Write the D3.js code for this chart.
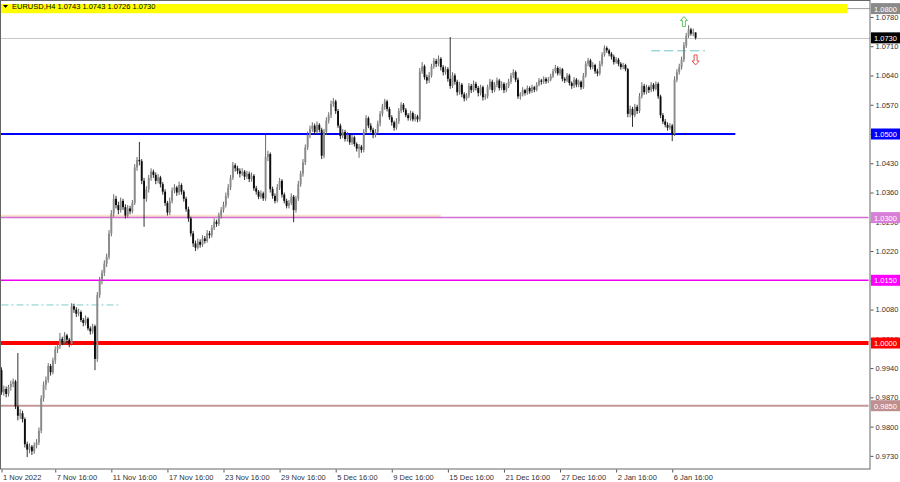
<!DOCTYPE html>
<html>
<head>
<meta charset="utf-8">
<script src="https://cdnjs.cloudflare.com/ajax/libs/d3/7.8.5/d3.min.js"></script>
<style>
  body { margin: 0; background: #fff; }
  text { font-family: "Liberation Sans", Arial, sans-serif; font-size: 7.5px; }
</style>
</head>
<body>
<script>
var width = 900;
var height = 482;
var plotRight = 870;
var plotBottom = 469;
var barStep = 2.337;

var symbol = 'EURUSD,H4';

// H4 bars, [open, high, low, close]
var bars = [
  [0.9935,0.9942,0.9876,0.9882],[0.9882,0.9898,0.9874,0.9890],[0.9890,0.9896,0.9870,0.9878],[0.9878,0.9900,0.9872,0.9895],
  [0.9895,0.9910,0.9886,0.9902],[0.9902,0.9915,0.9894,0.9908],[0.9908,0.9912,0.9842,0.9848],[0.9848,0.9976,0.9815,0.9826],
  [0.9826,0.9842,0.9818,0.9832],[0.9832,0.9838,0.9810,0.9818],[0.9818,0.9822,0.9750,0.9758],[0.9758,0.9764,0.9727,0.9745],
  [0.9745,0.9760,0.9736,0.9752],[0.9752,0.9756,0.9732,0.9741],[0.9741,0.9762,0.9735,0.9755],[0.9755,0.9770,0.9748,0.9762],
  [0.9762,0.9798,0.9756,0.9790],[0.9790,0.9875,0.9784,0.9868],[0.9868,0.9908,0.9860,0.9900],[0.9900,0.9920,0.9888,0.9912],
  [0.9912,0.9952,0.9905,0.9945],[0.9945,0.9950,0.9922,0.9930],[0.9930,0.9965,0.9925,0.9958],[0.9958,0.9992,0.9950,0.9985],
  [0.9985,1.0000,0.9976,0.9992],[0.9992,1.0024,0.9986,1.0010],[1.0010,1.0015,0.9995,1.0002],[1.0002,1.0026,0.9996,1.0018],
  [1.0018,1.0022,1.0000,1.0008],[1.0008,1.0012,0.9990,0.9998],[0.9998,1.0095,0.9994,1.0088],[1.0088,1.0094,1.0072,1.0080],
  [1.0080,1.0086,1.0062,1.0070],[1.0070,1.0082,1.0064,1.0074],[1.0074,1.0078,1.0050,1.0055],[1.0055,1.0060,1.0040,1.0048],
  [1.0048,1.0066,1.0042,1.0058],[1.0058,1.0062,1.0030,1.0035],[1.0035,1.0040,1.0020,1.0028],[1.0028,1.0046,1.0022,1.0040],
  [1.0040,1.0044,0.9935,0.9962],[0.9962,1.0122,0.9955,1.0115],[1.0115,1.0158,1.0108,1.0150],[1.0150,1.0175,1.0140,1.0168],
  [1.0168,1.0198,1.0160,1.0190],[1.0190,1.0214,1.0182,1.0206],[1.0206,1.0270,1.0200,1.0262],[1.0262,1.0318,1.0255,1.0310],
  [1.0310,1.0356,1.0302,1.0345],[1.0345,1.0352,1.0322,1.0330],[1.0330,1.0338,1.0308,1.0318],[1.0318,1.0348,1.0312,1.0340],
  [1.0340,1.0345,1.0318,1.0325],[1.0325,1.0332,1.0298,1.0305],[1.0305,1.0330,1.0300,1.0322],[1.0322,1.0328,1.0308,1.0315],
  [1.0315,1.0342,1.0310,1.0335],[1.0335,1.0428,1.0330,1.0420],[1.0420,1.0445,1.0412,1.0438],[1.0438,1.0481,1.0425,1.0435],
  [1.0435,1.0440,1.0380,1.0388],[1.0388,1.0395,1.0278,1.0345],[1.0345,1.0375,1.0338,1.0368],[1.0368,1.0402,1.0360,1.0395],
  [1.0395,1.0418,1.0388,1.0410],[1.0410,1.0415,1.0395,1.0402],[1.0402,1.0408,1.0380,1.0388],[1.0388,1.0404,1.0382,1.0396],
  [1.0396,1.0400,1.0372,1.0380],[1.0380,1.0385,1.0355,1.0362],[1.0362,1.0368,1.0328,1.0335],[1.0335,1.0340,1.0305,1.0312],
  [1.0312,1.0348,1.0306,1.0340],[1.0340,1.0372,1.0334,1.0365],[1.0365,1.0380,1.0358,1.0372],[1.0372,1.0376,1.0352,1.0360],
  [1.0360,1.0386,1.0354,1.0378],[1.0378,1.0382,1.0355,1.0362],[1.0362,1.0366,1.0338,1.0345],[1.0345,1.0350,1.0314,1.0320],
  [1.0320,1.0326,1.0290,1.0298],[1.0298,1.0302,1.0255,1.0262],[1.0262,1.0268,1.0230,1.0238],[1.0238,1.0245,1.0220,1.0228],
  [1.0228,1.0250,1.0224,1.0242],[1.0242,1.0248,1.0228,1.0235],[1.0235,1.0258,1.0230,1.0250],[1.0250,1.0256,1.0238,1.0244],
  [1.0244,1.0270,1.0240,1.0262],[1.0262,1.0268,1.0250,1.0258],[1.0258,1.0282,1.0252,1.0275],[1.0275,1.0298,1.0270,1.0290],
  [1.0290,1.0295,1.0278,1.0285],[1.0285,1.0312,1.0280,1.0305],[1.0305,1.0325,1.0298,1.0318],[1.0318,1.0338,1.0312,1.0330],
  [1.0330,1.0360,1.0324,1.0352],[1.0352,1.0380,1.0346,1.0372],[1.0372,1.0402,1.0366,1.0395],[1.0395,1.0433,1.0390,1.0425],
  [1.0425,1.0430,1.0410,1.0418],[1.0418,1.0424,1.0404,1.0412],[1.0412,1.0418,1.0396,1.0405],[1.0405,1.0418,1.0400,1.0410],
  [1.0410,1.0414,1.0390,1.0398],[1.0398,1.0412,1.0392,1.0405],[1.0405,1.0410,1.0385,1.0392],[1.0392,1.0408,1.0386,1.0400],
  [1.0400,1.0404,1.0364,1.0370],[1.0370,1.0376,1.0355,1.0362],[1.0362,1.0366,1.0344,1.0350],[1.0350,1.0365,1.0345,1.0358],
  [1.0358,1.0362,1.0340,1.0346],[1.0346,1.0498,1.0340,1.0445],[1.0445,1.0460,1.0435,1.0452],[1.0452,1.0456,1.0360,1.0368],
  [1.0368,1.0374,1.0345,1.0352],[1.0352,1.0358,1.0334,1.0340],[1.0340,1.0380,1.0336,1.0372],[1.0372,1.0395,1.0366,1.0388],
  [1.0388,1.0392,1.0348,1.0355],[1.0355,1.0360,1.0334,1.0340],[1.0340,1.0345,1.0322,1.0328],[1.0328,1.0342,1.0322,1.0335],
  [1.0335,1.0358,1.0330,1.0350],[1.0350,1.0354,1.0289,1.0318],[1.0318,1.0352,1.0312,1.0345],[1.0345,1.0388,1.0340,1.0380],
  [1.0380,1.0412,1.0374,1.0405],[1.0405,1.0440,1.0398,1.0432],[1.0432,1.0475,1.0426,1.0468],[1.0468,1.0506,1.0462,1.0498],
  [1.0498,1.0520,1.0490,1.0512],[1.0512,1.0528,1.0505,1.0520],[1.0520,1.0525,1.0498,1.0505],[1.0505,1.0530,1.0500,1.0522],
  [1.0522,1.0526,1.0504,1.0510],[1.0510,1.0515,1.0440,1.0448],[1.0448,1.0512,1.0442,1.0505],[1.0505,1.0540,1.0498,1.0532],
  [1.0532,1.0552,1.0525,1.0545],[1.0545,1.0580,1.0538,1.0572],[1.0572,1.0586,1.0565,1.0578],[1.0578,1.0582,1.0548,1.0555],
  [1.0555,1.0560,1.0514,1.0520],[1.0520,1.0525,1.0488,1.0495],[1.0495,1.0512,1.0490,1.0505],[1.0505,1.0510,1.0482,1.0488],
  [1.0488,1.0505,1.0482,1.0498],[1.0498,1.0502,1.0474,1.0480],[1.0480,1.0498,1.0474,1.0492],[1.0492,1.0496,1.0470,1.0476],
  [1.0476,1.0480,1.0458,1.0465],[1.0465,1.0476,1.0443,1.0470],[1.0470,1.0474,1.0455,1.0462],[1.0462,1.0512,1.0456,1.0505],
  [1.0505,1.0545,1.0500,1.0538],[1.0538,1.0542,1.0514,1.0520],[1.0520,1.0526,1.0504,1.0510],[1.0510,1.0515,1.0490,1.0498],
  [1.0498,1.0512,1.0492,1.0505],[1.0505,1.0532,1.0500,1.0525],[1.0525,1.0555,1.0518,1.0548],[1.0548,1.0572,1.0542,1.0565],
  [1.0565,1.0584,1.0558,1.0578],[1.0578,1.0582,1.0554,1.0560],[1.0560,1.0565,1.0534,1.0540],[1.0540,1.0545,1.0520,1.0528],
  [1.0528,1.0532,1.0508,1.0515],[1.0515,1.0538,1.0510,1.0530],[1.0530,1.0562,1.0524,1.0555],[1.0555,1.0576,1.0550,1.0570],
  [1.0570,1.0574,1.0552,1.0558],[1.0558,1.0562,1.0540,1.0545],[1.0545,1.0550,1.0532,1.0538],[1.0538,1.0556,1.0532,1.0550],
  [1.0550,1.0554,1.0530,1.0535],[1.0535,1.0548,1.0530,1.0542],[1.0542,1.0546,1.0528,1.0535],[1.0535,1.0658,1.0530,1.0650],
  [1.0650,1.0672,1.0644,1.0662],[1.0662,1.0666,1.0630,1.0636],[1.0636,1.0642,1.0620,1.0628],[1.0628,1.0648,1.0622,1.0640],
  [1.0640,1.0668,1.0635,1.0662],[1.0662,1.0682,1.0656,1.0675],[1.0675,1.0680,1.0660,1.0668],[1.0668,1.0688,1.0662,1.0680],
  [1.0680,1.0684,1.0652,1.0660],[1.0660,1.0665,1.0640,1.0648],[1.0648,1.0662,1.0642,1.0655],[1.0655,1.0660,1.0625,1.0632],
  [1.0632,1.0732,1.0608,1.0615],[1.0615,1.0648,1.0610,1.0640],[1.0640,1.0645,1.0618,1.0625],[1.0625,1.0630,1.0592,1.0600],
  [1.0600,1.0625,1.0594,1.0618],[1.0618,1.0622,1.0588,1.0595],[1.0595,1.0600,1.0578,1.0585],[1.0585,1.0598,1.0580,1.0592],
  [1.0592,1.0622,1.0586,1.0615],[1.0615,1.0620,1.0598,1.0605],[1.0605,1.0628,1.0600,1.0620],[1.0620,1.0625,1.0604,1.0610],
  [1.0610,1.0615,1.0590,1.0598],[1.0598,1.0618,1.0592,1.0612],[1.0612,1.0616,1.0580,1.0588],[1.0588,1.0596,1.0582,1.0590],
  [1.0590,1.0618,1.0585,1.0612],[1.0612,1.0632,1.0606,1.0625],[1.0625,1.0630,1.0598,1.0605],[1.0605,1.0624,1.0600,1.0618],
  [1.0618,1.0635,1.0612,1.0628],[1.0628,1.0632,1.0604,1.0610],[1.0610,1.0626,1.0605,1.0620],[1.0620,1.0624,1.0598,1.0605],
  [1.0605,1.0622,1.0600,1.0615],[1.0615,1.0632,1.0610,1.0625],[1.0625,1.0646,1.0620,1.0640],[1.0640,1.0655,1.0634,1.0648],
  [1.0648,1.0652,1.0624,1.0630],[1.0630,1.0635,1.0584,1.0590],[1.0590,1.0600,1.0582,1.0595],[1.0595,1.0612,1.0590,1.0605],
  [1.0605,1.0608,1.0592,1.0598],[1.0598,1.0616,1.0594,1.0610],[1.0610,1.0614,1.0596,1.0602],[1.0602,1.0618,1.0598,1.0612],
  [1.0612,1.0615,1.0600,1.0606],[1.0606,1.0624,1.0602,1.0618],[1.0618,1.0634,1.0614,1.0628],[1.0628,1.0632,1.0618,1.0625],
  [1.0625,1.0638,1.0620,1.0632],[1.0632,1.0636,1.0620,1.0626],[1.0626,1.0636,1.0622,1.0630],[1.0630,1.0644,1.0626,1.0638],
  [1.0638,1.0656,1.0634,1.0650],[1.0650,1.0665,1.0645,1.0658],[1.0658,1.0662,1.0640,1.0645],[1.0645,1.0660,1.0640,1.0655],
  [1.0655,1.0658,1.0626,1.0632],[1.0632,1.0636,1.0622,1.0628],[1.0628,1.0646,1.0624,1.0640],[1.0640,1.0644,1.0616,1.0622],
  [1.0622,1.0626,1.0608,1.0615],[1.0615,1.0636,1.0610,1.0630],[1.0630,1.0634,1.0612,1.0618],[1.0618,1.0630,1.0612,1.0625],
  [1.0625,1.0628,1.0606,1.0612],[1.0612,1.0646,1.0608,1.0640],[1.0640,1.0674,1.0635,1.0668],[1.0668,1.0682,1.0662,1.0676],
  [1.0676,1.0680,1.0654,1.0660],[1.0660,1.0672,1.0655,1.0665],[1.0665,1.0668,1.0644,1.0650],[1.0650,1.0656,1.0638,1.0645],
  [1.0645,1.0675,1.0640,1.0668],[1.0668,1.0696,1.0662,1.0690],[1.0690,1.0712,1.0685,1.0706],[1.0706,1.0710,1.0694,1.0700],
  [1.0700,1.0704,1.0686,1.0692],[1.0692,1.0696,1.0678,1.0685],[1.0685,1.0690,1.0666,1.0672],[1.0672,1.0684,1.0668,1.0678],
  [1.0678,1.0682,1.0662,1.0668],[1.0668,1.0672,1.0654,1.0660],[1.0660,1.0670,1.0655,1.0665],[1.0665,1.0668,1.0650,1.0655],
  [1.0655,1.0658,1.0540,1.0548],[1.0548,1.0568,1.0540,1.0560],[1.0560,1.0565,1.0517,1.0545],[1.0545,1.0572,1.0540,1.0565],
  [1.0565,1.0570,1.0548,1.0555],[1.0555,1.0598,1.0550,1.0590],[1.0590,1.0624,1.0585,1.0615],[1.0615,1.0620,1.0594,1.0600],
  [1.0600,1.0618,1.0595,1.0612],[1.0612,1.0616,1.0598,1.0605],[1.0605,1.0624,1.0600,1.0618],[1.0618,1.0622,1.0602,1.0608],
  [1.0608,1.0626,1.0604,1.0620],[1.0620,1.0624,1.0584,1.0590],[1.0590,1.0594,1.0538,1.0545],[1.0545,1.0550,1.0524,1.0530],
  [1.0530,1.0536,1.0516,1.0522],[1.0522,1.0528,1.0508,1.0515],[1.0515,1.0526,1.0510,1.0520],[1.0520,1.0524,1.0483,1.0500],
  [1.0500,1.0638,1.0495,1.0630],[1.0630,1.0655,1.0624,1.0648],[1.0648,1.0668,1.0642,1.0660],[1.0660,1.0685,1.0654,1.0678],
  [1.0678,1.0720,1.0672,1.0712],[1.0712,1.0742,1.0706,1.0735],[1.0735,1.0760,1.0730,1.0750],[1.0750,1.0754,1.0735,1.0740],
  [1.0740,1.0752,1.0734,1.0743],[1.0743,1.0743,1.0726,1.0730]
];

var timeLabels = ['1 Nov 2022', '7 Nov 16:00', '11 Nov 16:00', '17 Nov 16:00', '23 Nov 16:00', '29 Nov 16:00',
  '5 Dec 16:00', '9 Dec 16:00', '15 Dec 16:00', '21 Dec 16:00', '27 Dec 16:00', '2 Jan 16:00', '6 Jan 16:00'];
var timeLabelBars = [0, 23, 47, 71, 95, 119, 143, 167, 191, 215, 239, 263, 287];

var priceTicks = [0.9730, 0.9800, 0.9870, 0.9940, 1.0010, 1.0080, 1.0150, 1.0220, 1.0290,
  1.0360, 1.0430, 1.0500, 1.0570, 1.0640, 1.0710, 1.0780];

// horizontal levels drawn on the chart
var levels = [1.0800, 1.0500, 1.0300, 1.0150, 1.0000, 0.9850];
var levelEndBars = [371, 314, 371, 371, 371, 371];

// zones: [fromBar, toBar, lowPrice, highPrice]
var yellowZone = [0, 362, 1.0789, 1.0811];
var peachZone = [0, 188, 1.0300, 1.0307];

// dashed lines: [fromBar, toBar, price]
var dashDotLine = [0, 50, 1.0091];
var dashLine = [278, 301, 1.0699];

// signal arrows: [bar, price]
var upArrow = [292, 1.0781];
var downArrow = [297, 1.0689];

var levelStyle = [
  { color: '#a0a0a0', width: 1, label: '#8a8a8a' },
  { color: '#0000ff', width: 2, label: '#0000ff' },
  { color: '#d070d4', width: 1.5, label: '#d77fd9' },
  { color: '#f000f0', width: 1.5, label: '#ff00ff' },
  { color: '#ff0000', width: 4, label: '#ff0000' },
  { color: '#c49898', width: 2, label: '#bf8f8f' }
];

var svg = d3.select('body')
  .append('svg')
  .attr('width', width)
  .attr('height', height);

var xScale = d3.scaleLinear()
  .domain([0, 1])
  .range([1.5, 1.5 + barStep]);

var yScale = d3.scaleLinear()
  .domain([1.0, 1.08])
  .range([343, 8.6]);

var chart = svg.append('g');
chart.append('clipPath').attr('id', 'plot')
  .append('rect').attr('x', 0).attr('y', 0).attr('width', plotRight).attr('height', plotBottom);
var plot = chart.append('g').attr('clip-path', 'url(#plot)');

// zones
plot.append('rect')
  .attr('x', 0)
  .attr('width', xScale(yellowZone[1]))
  .attr('y', yScale(yellowZone[3]))
  .attr('height', yScale(yellowZone[2]) - yScale(yellowZone[3]))
  .attr('fill', '#ffff00');

plot.append('rect')
  .attr('x', 0)
  .attr('width', xScale(peachZone[1]))
  .attr('y', yScale(peachZone[3]))
  .attr('height', yScale(peachZone[2]) - yScale(peachZone[3]))
  .attr('fill', '#fbe2cf');

// current price line
var last = bars[bars.length - 1];
plot.append('line')
  .attr('x1', 0).attr('x2', plotRight)
  .attr('y1', Math.round(yScale(last[3])) + 0.5).attr('y2', Math.round(yScale(last[3])) + 0.5)
  .attr('stroke', '#c8c8c8')
  .attr('stroke-width', 1);

// levels
levels.forEach(function(p, i) {
  var s = levelStyle[i];
  var x2 = i === 0 ? plotRight : xScale(levelEndBars[i]);
  plot.append('line')
    .attr('x1', i === 0 ? xScale(yellowZone[1]) : 0).attr('x2', Math.min(x2, plotRight))
    .attr('y1', yScale(p)).attr('y2', yScale(p))
    .attr('stroke', s.color)
    .attr('stroke-width', s.width);
});

plot.append('line')
  .attr('x1', xScale(dashDotLine[0])).attr('x2', xScale(dashDotLine[1]))
  .attr('y1', yScale(dashDotLine[2])).attr('y2', yScale(dashDotLine[2]))
  .attr('stroke', '#7fcccc')
  .attr('stroke-dasharray', '7,3,2,3');

plot.append('line')
  .attr('x1', xScale(dashLine[0])).attr('x2', xScale(dashLine[1]))
  .attr('y1', yScale(dashLine[2])).attr('y2', yScale(dashLine[2]))
  .attr('stroke', '#6cc4c4')
  .attr('stroke-dasharray', '9,4');

// candles
var candles = plot.selectAll('g.bar')
  .data(bars)
  .enter()
  .append('g')
  .attr('class', 'bar');

candles.append('line')
  .attr('x1', function(d, i) { return xScale(i); })
  .attr('x2', function(d, i) { return xScale(i); })
  .attr('y1', function(d) { return yScale(d[1]); })
  .attr('y2', function(d) { return yScale(d[2]); })
  .attr('stroke', function(d) { return d[3] >= d[0] ? '#5a5a5a' : '#1a1a1a'; })
  .attr('stroke-width', 0.9);

candles.append('rect')
  .attr('x', function(d, i) { return xScale(i) - 0.95; })
  .attr('width', 1.9)
  .attr('y', function(d) { return yScale(Math.max(d[0], d[3])); })
  .attr('height', function(d) { return Math.max(0.8, Math.abs(yScale(d[0]) - yScale(d[3]))); })
  .attr('fill', function(d) { return d[3] >= d[0] ? '#8a8a8a' : '#0c0c0c'; });

// arrows
function arrowPath(cx, tipY, dir) {
  var pts = [[0, 0], [3.5, 4], [1.5, 4], [1.5, 10], [-1.5, 10], [-1.5, 4], [-3.5, 4]];
  return 'M' + pts.map(function(p) { return (cx + p[0]) + ',' + (tipY + dir * p[1]); }).join('L') + 'Z';
}
plot.append('path')
  .attr('d', arrowPath(xScale(upArrow[0]), yScale(upArrow[1]), 1))
  .attr('fill', '#fff').attr('stroke', '#62c462').attr('stroke-width', 1);
plot.append('path')
  .attr('d', arrowPath(xScale(downArrow[0]), yScale(downArrow[1]) + 10, -1))
  .attr('fill', '#fff').attr('stroke', '#e05252').attr('stroke-width', 1);

// frame
chart.append('rect')
  .attr('x', 0.5).attr('y', 0.5)
  .attr('width', plotRight - 0.5).attr('height', plotBottom - 0.5)
  .attr('fill', 'none')
  .attr('stroke', '#666');

// right price axis
var yAxis = d3.axisRight(yScale)
  .tickValues(priceTicks)
  .tickFormat(d3.format('.4f'))
  .tickSize(3)
  .tickPadding(2);

var ya = svg.append('g')
  .attr('transform', 'translate(' + (plotRight + 0.5) + ',0)')
  .call(yAxis);
ya.select('.domain').remove();
ya.selectAll('line').attr('stroke', '#555');
ya.selectAll('text').attr('fill', '#333').style('font-size', '7.5px');

// bottom time axis
var xAxis = d3.axisBottom(xScale)
  .tickValues(timeLabelBars)
  .tickFormat(function(d, i) { return timeLabels[i]; })
  .tickSize(3)
  .tickPadding(2);

var xa = svg.append('g')
  .attr('transform', 'translate(0,' + (plotBottom + 0.5) + ')')
  .call(xAxis);
xa.select('.domain').remove();
xa.selectAll('line').attr('stroke', '#555');
xa.selectAll('text')
  .attr('fill', '#333')
  .attr('text-anchor', 'start')
  .attr('dx', '1')
  .style('font-size', '7.5px');

// price labels on the axis
function priceLabel(p, bg) {
  var y = yScale(p);
  svg.append('rect')
    .attr('x', plotRight + 1).attr('y', y - 5.5)
    .attr('width', 29).attr('height', 11)
    .attr('fill', bg);
  svg.append('text')
    .attr('x', plotRight + 4).attr('y', y + 3)
    .attr('fill', '#fff')
    .text(d3.format('.4f')(p));
}
levels.forEach(function(p, i) { priceLabel(p, levelStyle[i].label); });
priceLabel(last[3], '#000');

// header
svg.append('path')
  .attr('d', 'M3,5L8,5L5.5,8Z')
  .attr('fill', '#000');
svg.append('text')
  .attr('x', 12).attr('y', 9)
  .attr('fill', '#000')
  .text(symbol + '  ' + last.map(d3.format('.4f')).join(' '));
</script>
</body>
</html>
